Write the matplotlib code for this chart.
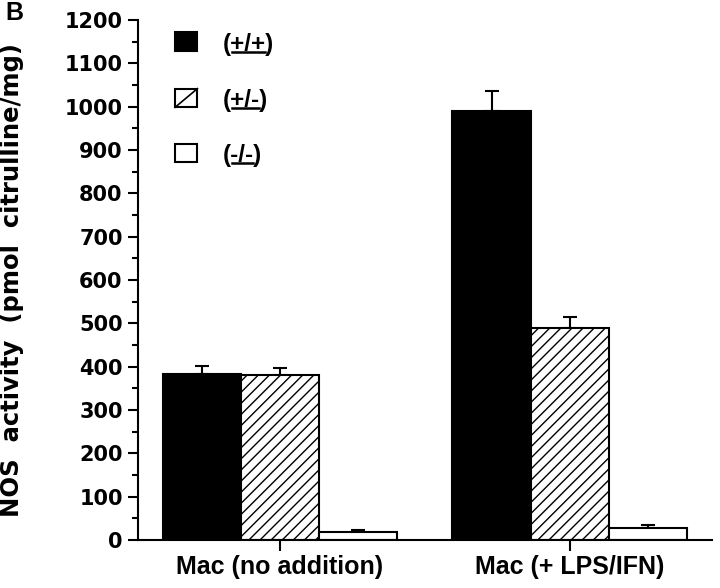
import matplotlib
matplotlib.use("Agg")
import matplotlib.pyplot as plt
import numpy as np
from matplotlib.patches import Rectangle
from matplotlib.lines import Line2D

plt.rcParams['font.family'] = ['Liberation Sans', 'DejaVu Sans']
plt.rcParams['font.weight'] = 'bold'
plt.rcParams['hatch.linewidth'] = 1.0

conditions = ['Mac (no addition)', 'Mac (+ LPS/IFN)']
genotypes = ['+/+', '+/-', '-/-']
values = {
    '+/+': [383, 990],
    '+/-': [380, 490],
    '-/-': [18, 27],
}
errors = {
    '+/+': [18, 45],
    '+/-': [17, 25],
    '-/-': [4, 7],
}
colors = {'+/+': 'black', '+/-': 'white', '-/-': 'white'}
hatches = {'+/+': None, '+/-': '///', '-/-': None}

fig = plt.figure(figsize=(7.2, 5.88), dpi=100)
ax = fig.add_axes([0.1917, 0.0816, 0.797, 0.8844])

x = np.arange(len(conditions))
width = 0.27
for i, g in enumerate(genotypes):
    pos = x + (i - 1) * width
    ax.bar(pos, values[g], width, color=colors[g], edgecolor='black',
           linewidth=1.5, hatch=hatches[g], zorder=2)
    ax.errorbar(pos, values[g], yerr=[np.zeros(len(x)), errors[g]], fmt='none',
                ecolor='black', elinewidth=1.5, capsize=5, capthick=1.5, zorder=1)

ax.set_xlim(-0.49, 1.49)
ax.set_ylim(0, 1200)
ax.set_yticks(np.arange(0, 1201, 100))
ax.set_yticks(np.arange(0, 1201, 50), minor=True)
ax.set_xticks(x)
ax.set_xticklabels(conditions, fontsize=18, fontweight='bold')
ax.tick_params(axis='y', width=1.5, length=7, pad=4)
ax.tick_params(axis='y', which='minor', width=1.5, length=4)
ax.tick_params(axis='x', width=1.5, length=8, pad=3)
for lab in ax.get_yticklabels():
    lab.set_fontfamily('DejaVu Sans')
    lab.set_fontweight('bold')
    lab.set_fontsize(15)

ax.spines['top'].set_visible(False)
ax.spines['right'].set_visible(False)
ax.spines['left'].set_linewidth(1.5)
ax.spines['bottom'].set_linewidth(1.5)

ax.set_ylabel('NOS  activity  (pmol  citrulline/mg)', fontsize=17.5, fontweight='bold',
              family='DejaVu Sans')
ax.yaxis.set_label_coords(-0.198, 0.5)

# hand-made legend with underlined genotype text
fig.canvas.draw()
renderer = fig.canvas.get_renderer()
row_y = [0.958, 0.850, 0.744]
sq_x, sq_w, sq_h = 0.0645, 0.039, 0.036
for g, yy in zip(genotypes, row_y):
    ax.add_patch(Rectangle((sq_x, yy - sq_h / 2), sq_w, sq_h, transform=ax.transAxes,
                           facecolor=colors[g], edgecolor='black', linewidth=1.5,
                           clip_on=False))
    if hatches[g]:
        ax.add_line(Line2D([sq_x, sq_x + sq_w], [yy - sq_h / 2, yy + sq_h / 2],
                           transform=ax.transAxes, color='black', linewidth=1.2))
    t = ax.text(0.148, yy, '(' + g + ')', transform=ax.transAxes, fontsize=17.5,
                fontweight='bold', va='center_baseline', ha='left')
    bb = t.get_window_extent(renderer)
    tp = ax.text(0, 0, '(', fontsize=17.5, fontweight='bold')
    pw = tp.get_window_extent(renderer).width
    tp.remove()
    inv = fig.transFigure.inverted()
    x0, y0 = inv.transform((bb.x0 + pw + 1, bb.y0 + 4))
    x1, _ = inv.transform((bb.x1 - pw - 1, bb.y0 + 4))
    fig.add_artist(Line2D([x0, x1], [y0, y0], color='black', linewidth=1.8))

fig.text(0.008, 0.998, 'B', fontsize=18, fontweight='bold', va='top', ha='left')

fig.savefig('out.png', dpi=100)
